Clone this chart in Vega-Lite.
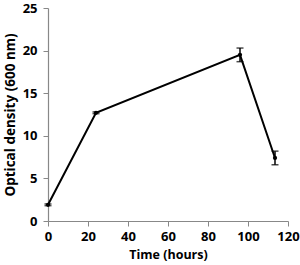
{
  "$schema": "https://vega.github.io/schema/vega-lite/v6.json",
  "width": 240,
  "height": 213,
  "autosize": "none",
  "padding": {"left": 48, "top": 8, "right": 12, "bottom": 44},
  "background": "white",
  "config": {
    "view": {"stroke": null},
    "axis": {
      "grid": false,
      "domainColor": "#888888",
      "tickColor": "#888888",
      "domainWidth": 1.2,
      "tickSize": 5,
      "labelFont": "Open Sans",
      "labelFontWeight": "bold",
      "labelFontSize": 13,
      "labelColor": "black",
      "labelFlush": false,
      "labelOverlap": false,
      "titleFont": "Open Sans",
      "titleFontWeight": "bold",
      "titleColor": "black"
    }
  },
  "data": {
    "values": [
      {"t": 0, "od": 1.9, "lo": 1.8, "hi": 2.0},
      {"t": 24, "od": 12.7, "lo": 12.6, "hi": 12.8},
      {"t": 96, "od": 19.5, "lo": 18.7, "hi": 20.3},
      {"t": 113.5, "od": 7.4, "lo": 6.6, "hi": 8.2}
    ]
  },
  "encoding": {
    "x": {
      "field": "t", "type": "quantitative",
      "scale": {"domain": [0, 120], "nice": false},
      "axis": {"values": [0, 20, 40, 60, 80, 100, 120], "title": "Time (hours)", "titleFontSize": 12.5, "labelPadding": 4, "titlePadding": 5}
    }
  },
  "layer": [
    {
      "mark": {"type": "line", "color": "black", "strokeWidth": 2, "point": {"filled": true, "color": "black", "size": 18}},
      "encoding": {
        "y": {
          "field": "od", "type": "quantitative",
          "scale": {"domain": [0, 25], "nice": false},
          "axis": {"values": [0, 5, 10, 15, 20, 25], "title": "Optical density (600 nm)", "titleFontSize": 13.5, "labelPadding": 6, "titlePadding": 5}
        }
      }
    },
    {
      "mark": {"type": "rule", "color": "black", "strokeWidth": 1.5},
      "encoding": {"y": {"field": "lo", "type": "quantitative"}, "y2": {"field": "hi"}}
    },
    {
      "mark": {"type": "tick", "color": "black", "thickness": 1.5, "size": 7, "orient": "horizontal"},
      "encoding": {"y": {"field": "lo", "type": "quantitative"}}
    },
    {
      "mark": {"type": "tick", "color": "black", "thickness": 1.5, "size": 7, "orient": "horizontal"},
      "encoding": {"y": {"field": "hi", "type": "quantitative"}}
    }
  ]
}
